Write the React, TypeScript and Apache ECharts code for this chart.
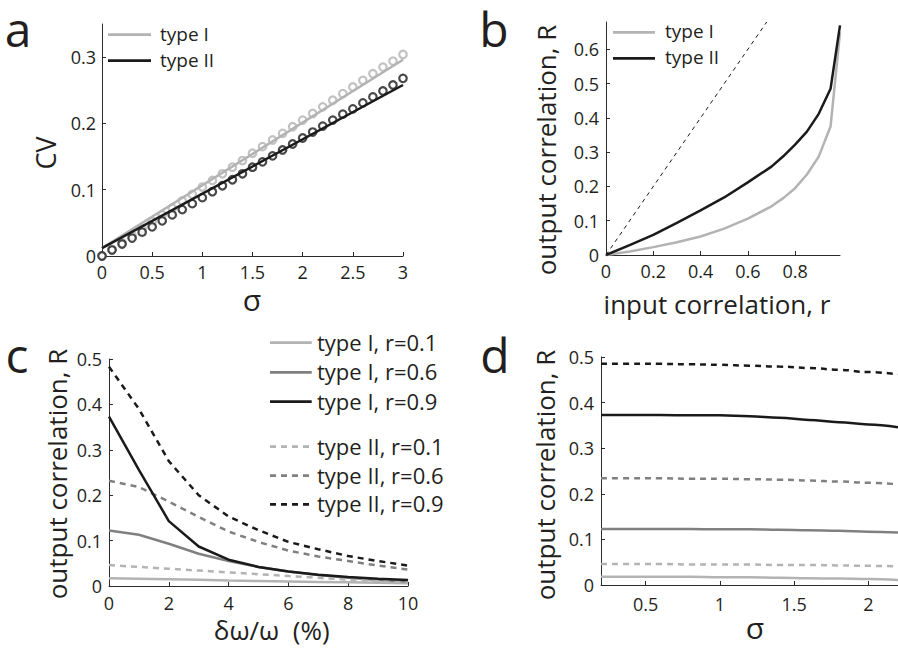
import React, { useEffect, useRef } from 'react';
import * as echarts from 'echarts';

const FONT = '"Open Sans", "Noto Sans", sans-serif';
const TXT = '#231f20';
const LIGHT = '#b3b3b3';
const MID = '#808080';
const DARK = '#1a1a1a';

// ---------- Panel a ----------
const sigmaA = [0, 0.1, 0.2, 0.3, 0.4, 0.5, 0.6, 0.7, 0.8, 0.9, 1.0, 1.1, 1.2, 1.3, 1.4, 1.5, 1.6, 1.7, 1.8, 1.9, 2.0, 2.1, 2.2, 2.3, 2.4, 2.5, 2.6, 2.7, 2.8, 2.9, 3.0];
const cvTypeI = [0, 0.01, 0.02, 0.031, 0.041, 0.052, 0.062, 0.072, 0.083, 0.093, 0.104, 0.114, 0.124, 0.134, 0.144, 0.155, 0.165, 0.175, 0.185, 0.195, 0.205, 0.215, 0.225, 0.235, 0.245, 0.255, 0.265, 0.275, 0.285, 0.294, 0.304];
const cvTypeII = [0, 0.009, 0.018, 0.027, 0.036, 0.044, 0.053, 0.062, 0.07, 0.079, 0.088, 0.097, 0.106, 0.115, 0.124, 0.134, 0.142, 0.151, 0.16, 0.169, 0.178, 0.187, 0.196, 0.205, 0.214, 0.222, 0.231, 0.24, 0.249, 0.258, 0.268];
const fitSigma = [0, 3];
const fitTypeI = [0.012, 0.296];
const fitTypeII = [0.012, 0.258];
const ticksAx = [0, 0.5, 1, 1.5, 2, 2.5, 3];
const ticksAy = [0, 0.1, 0.2, 0.3];

// ---------- Panel b ----------
const rIn = [0, 0.1, 0.2, 0.3, 0.4, 0.5, 0.6, 0.7, 0.75, 0.8, 0.85, 0.9, 0.95, 0.99];
const RTypeI = [0, 0.01, 0.023, 0.037, 0.054, 0.077, 0.106, 0.142, 0.166, 0.195, 0.235, 0.287, 0.375, 0.65];
const RTypeII = [0, 0.029, 0.059, 0.094, 0.13, 0.168, 0.212, 0.258, 0.288, 0.322, 0.36, 0.412, 0.485, 0.67];
const diagX = [0, 0.68];
const ticksBx = [0, 0.2, 0.4, 0.6, 0.8];
const ticksBy = [0, 0.1, 0.2, 0.3, 0.4, 0.5, 0.6];

// ---------- Panel c ----------
const detuning = [0, 1, 2, 3, 4, 5, 6, 7, 8, 9, 10];
const cI01 = [0.017, 0.016, 0.015, 0.014, 0.012, 0.011, 0.01, 0.009, 0.008, 0.007, 0.006];
const cI06 = [0.122, 0.113, 0.093, 0.071, 0.055, 0.042, 0.032, 0.024, 0.018, 0.013, 0.01];
const cI09 = [0.373, 0.256, 0.143, 0.087, 0.058, 0.042, 0.032, 0.025, 0.02, 0.016, 0.013];
const cII01 = [0.046, 0.042, 0.038, 0.034, 0.03, 0.026, 0.022, 0.018, 0.014, 0.011, 0.008];
const cII06 = [0.232, 0.218, 0.186, 0.152, 0.12, 0.097, 0.078, 0.065, 0.055, 0.045, 0.036];
const cII09 = [0.483, 0.39, 0.275, 0.2, 0.153, 0.123, 0.097, 0.081, 0.066, 0.055, 0.045];
const ticksCx = [0, 2, 4, 6, 8, 10];
const ticksCy = [0, 0.1, 0.2, 0.3, 0.4, 0.5];

// ---------- Panel d ----------
const sigmaD = [0.2, 0.4, 0.6, 0.8, 1.0, 1.2, 1.4, 1.6, 1.8, 2.0, 2.2];
const dI01 = [0.018, 0.018, 0.018, 0.018, 0.017, 0.017, 0.016, 0.015, 0.014, 0.013, 0.011];
const dI06 = [0.123, 0.123, 0.123, 0.123, 0.122, 0.122, 0.121, 0.12, 0.119, 0.117, 0.115];
const dI09 = [0.373, 0.373, 0.373, 0.372, 0.372, 0.37, 0.367, 0.362, 0.357, 0.352, 0.346];
const dII01 = [0.046, 0.046, 0.046, 0.045, 0.045, 0.045, 0.044, 0.044, 0.043, 0.042, 0.041];
const dII06 = [0.234, 0.234, 0.234, 0.233, 0.233, 0.232, 0.231, 0.229, 0.227, 0.224, 0.221];
const dII09 = [0.485, 0.485, 0.485, 0.484, 0.483, 0.481, 0.479, 0.476, 0.472, 0.467, 0.462];
const ticksDx = [0.5, 1, 1.5, 2];
const ticksDy = [0, 0.1, 0.2, 0.3, 0.4, 0.5];

const legendAB = ['type I', 'type II'];
const legendC = ['type I, r=0.1', 'type I, r=0.6', 'type I, r=0.9', 'type II, r=0.1', 'type II, r=0.6', 'type II, r=0.9'];

const zip = (xs: number[], ys: number[]) => xs.map((x, i) => [x, ys[i]]);

const axisBase = (idx: number, min: number, max: number, ticks: number[], margin: number) => ({
  gridIndex: idx,
  type: 'value',
  min,
  max,
  axisLine: { show: true, onZero: false, lineStyle: { color: '#2b2b2b', width: 1 } },
  axisTick: { show: true, inside: true, length: 4, customValues: ticks, lineStyle: { color: '#2b2b2b', width: 1 } },
  splitLine: { show: false },
  axisLabel: { show: true, customValues: ticks, margin, color: TXT, fontSize: 18, fontFamily: FONT },
});

const lineSeries = (xi: number, data: number[][], color: string, dashed = false, width = 2.5, smooth: any = false) => ({
  type: 'line',
  xAxisIndex: xi,
  yAxisIndex: xi,
  data,
  showSymbol: false,
  symbol: 'none',
  smooth,
  smoothMonotone: 'x',
  clip: false,
  lineStyle: { color, width, type: dashed ? [6, 5] : 'solid' },
  silent: true,
});

const scatterSeries = (xi: number, data: number[][], color: string) => ({
  type: 'scatter',
  xAxisIndex: xi,
  yAxisIndex: xi,
  data,
  symbol: 'circle',
  symbolSize: 7.5,
  clip: false,
  itemStyle: { color: '#ffffff', borderColor: color, borderWidth: 2.2 },
  silent: true,
});

const txt = (text: string, x: number, y: number, size: number, align = 'center', rotate = 0) => ({
  type: 'text',
  x,
  y,
  rotation: rotate,
  silent: true,
  style: {
    text,
    fill: TXT,
    font: `${size}px ${FONT}`,
    align,
    verticalAlign: 'middle',
    textAlign: align,
    textVerticalAlign: 'middle',
  },
});

const legLine = (x1: number, x2: number, y: number, color: string, dashed = false) => ({
  type: 'line',
  silent: true,
  shape: { x1, y1: y, x2, y2: y },
  style: { stroke: color, lineWidth: 2.7, lineDash: dashed ? [6, 5] : null },
});

export default function App() {
  const ref = useRef<HTMLDivElement>(null);
  useEffect(() => {
    if (!ref.current) return;
    const chart = echarts.init(ref.current, undefined, { renderer: 'svg' });
    const legCy = [342.7, 372.3, 401.7, 446.7, 475.7, 504.3];
    const legCc = [LIGHT, MID, DARK, LIGHT, MID, DARK];
    const option: any = {
      animation: false,
      backgroundColor: '#ffffff',
      grid: [
        { left: 102, top: 24, width: 301, height: 232 },
        { left: 606, top: 22, width: 234, height: 233 },
        { left: 109, top: 359, width: 299, height: 227 },
        { left: 601, top: 357, width: 299, height: 228 },
      ],
      xAxis: [
        axisBase(0, 0, 3, ticksAx, 7),
        axisBase(1, 0, 0.99, ticksBx, 7),
        axisBase(2, 0, 10, ticksCx, 8),
        axisBase(3, 0.2, 2.2, ticksDx, 10),
      ],
      yAxis: [
        axisBase(0, 0, 0.35, ticksAy, 6),
        axisBase(1, 0, 0.68, ticksBy, 7),
        axisBase(2, 0, 0.5, ticksCy, 7),
        axisBase(3, 0, 0.5, ticksDy, 7),
      ],
      series: [
        // a
        lineSeries(0, zip(fitSigma, fitTypeI), LIGHT),
        scatterSeries(0, zip(sigmaA, cvTypeI), LIGHT),
        lineSeries(0, zip(fitSigma, fitTypeII), DARK),
        scatterSeries(0, zip(sigmaA, cvTypeII), DARK),
        // b
        lineSeries(1, zip(diagX, diagX), DARK, false, 1),
        lineSeries(1, zip(rIn, RTypeI), LIGHT),
        lineSeries(1, zip(rIn, RTypeII), DARK),
        // c
        lineSeries(2, zip(detuning, cI01), LIGHT),
        lineSeries(2, zip(detuning, cI06), MID),
        lineSeries(2, zip(detuning, cII01), LIGHT, true),
        lineSeries(2, zip(detuning, cII06), MID, true),
        lineSeries(2, zip(detuning, cII09), DARK, true),
        lineSeries(2, zip(detuning, cI09), DARK),
        // d
        lineSeries(3, zip(sigmaD, dI01), LIGHT, false, 2.5, 0.4),
        lineSeries(3, zip(sigmaD, dII01), LIGHT, true, 2.5, 0.4),
        lineSeries(3, zip(sigmaD, dI06), MID, false, 2.5, 0.4),
        lineSeries(3, zip(sigmaD, dII06), MID, true, 2.5, 0.4),
        lineSeries(3, zip(sigmaD, dI09), DARK, false, 2.5, 0.4),
        lineSeries(3, zip(sigmaD, dII09), DARK, true, 2.5, 0.4),
      ],
      graphic: [
        // panel letters
        txt('a', 18, 28, 48),
        txt('b', 494, 28, 48),
        txt('c', 17, 354, 48),
        txt('d', 495, 354, 48),
        // axis names
        txt('CV', 45, 153, 27, 'center', Math.PI / 2),
        txt('σ', 252, 299, 30),
        txt('output correlation, R', 545.5, 150, 26, 'center', Math.PI / 2),
        txt('input correlation, r', 717, 304, 26),
        txt('output correlation, R', 56.5, 474, 26, 'center', Math.PI / 2),
        txt('δω/ω  (%)', 271.7, 630, 26),
        txt('output correlation, R', 544.5, 475, 26, 'center', Math.PI / 2),
        txt('σ', 755, 627, 30),
        // legend a
        legLine(108, 151, 34.7, LIGHT),
        legLine(108, 151, 60.7, DARK),
        txt(legendAB[0], 160, 33.5, 19, 'left'),
        txt(legendAB[1], 160, 59.5, 19, 'left'),
        // legend b
        legLine(613, 655, 32.3, LIGHT),
        legLine(613, 655, 58.3, DARK),
        txt(legendAB[0], 665, 31.3, 19, 'left'),
        txt(legendAB[1], 665, 57.3, 19, 'left'),
        // legend c
        ...legendC.map((t, i) => legLine(270, 311.7, legCy[i], legCc[i], i >= 3)),
        ...legendC.map((t, i) => txt(t, 317, legCy[i] - 1, 22, 'left')),
      ],
    };
    // dashed diagonal in b
    option.series[4].lineStyle.type = [4, 4];
    chart.setOption(option);
    return () => chart.dispose();
  }, []);
  return (
    <div
      ref={ref}
      style={{ position: 'absolute', left: 0, top: 0, width: 898, height: 649, background: '#fff' }}
    />
  );
}
